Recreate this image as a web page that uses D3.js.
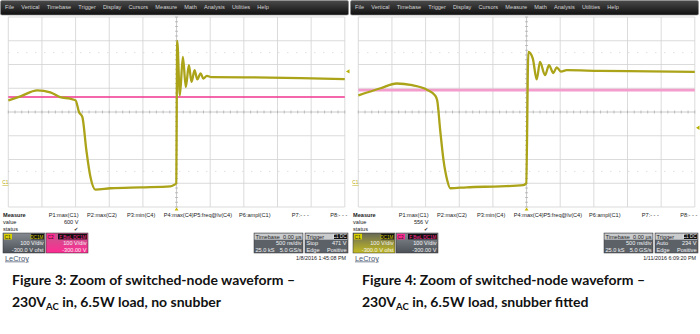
<!DOCTYPE html>
<html>
<head>
<meta charset="utf-8">
<script src="https://cdn.jsdelivr.net/npm/d3@7"></script>
<style>
  body { margin: 0; background: #fff; }
  svg { display: block; }
</style>
</head>
<body>
<svg id="chart" width="700" height="334"></svg>
<script>
// Switch-node traces: time in us (500 ns/div, trigger at 0), volts (100 V/div, -300 V offset)
const fig3Time = [-2.5, -2.32, -2.07, -1.875, -1.73, -1.58, -1.5, -1.45, -1.4, -1.34, -1.28, -1.205, -0.98, -0.54, -0.09, -0.03, -0.005,
  0.01, 0.049, 0.094, 0.138, 0.183, 0.223, 0.268, 0.308, 0.357, 0.397, 0.45, 0.52, 1.1, 1.85, 2.5];
const fig3Volt = [349, 366, 391, 383, 363, 356, 349, 300, 279, 139, 27, -27, -21, -17, -13, -6, 0,
  599, 370, 532, 405, 497, 427, 476, 437, 463, 441, 452, 447, 446, 443, 438];

const fig4Time = [-2.5, -2.17, -1.93, -1.7, -1.48, -1.36, -1.328, -1.283, -1.234, -1.179, -1.135, -0.89, -0.39, -0.05, -0.005,
  0.027, 0.092, 0.151, 0.2, 0.274, 0.334, 0.398, 0.448, 0.51, 0.597, 1.09, 1.83, 2.5];
const fig4Volt = [370, 400, 420, 413, 394, 370, 349, 223, 97, 13, -21, -17, -13, -8, 0,
  553, 526, 437, 511, 455, 497, 464, 488, 470, 476, 473, 471, 469];

const c2Volt = [363, 392];          // C2 sits flat
const triggerLevel = [471, 234];
const triggerMode = ["Stop", "Auto"];
const p1Value = ["600 V", "556 V"];
const dates = ["1/8/2016 1:45:08 PM", "1/11/2016 6:09:20 PM"];
const figNames = ["Figure 3", "Figure 4"];
const figEnds = ["no snubber", "snubber fitted"];

const menuItems = ["File", "Vertical", "Timebase", "Trigger", "Display", "Cursors", "Measure", "Math", "Analysis", "Utilities", "Help"];
const measureLabels = ["P1:max(C1)", "P2:max(C2)", "P3:min(C4)", "P4:max(C4)", "P5:freq@lv(C4)", "P6:ampl(C1)", "P7:- - -", "P8:- - -"];

const svg = d3.select("#chart");
const font = "'Liberation Sans', Arial, sans-serif";

// gradients for the little readout boxes
const defs = svg.append("defs");
function grad(id, top, bottom) {
  const g = defs.append("linearGradient").attr("id", id).attr("x1", 0).attr("x2", 0).attr("y1", 0).attr("y2", 1);
  g.append("stop").attr("offset", "0%").attr("stop-color", top);
  g.append("stop").attr("offset", "100%").attr("stop-color", bottom);
}
grad("menuGrad", "#4a4a4a", "#101010");
grad("grayGrad", "#858a91", "#4c5158");
grad("pinkGrad", "#c25b8d", "#ff2a92");
grad("yellowGrad", "#666858", "#c4bc22");

function drawScope(i) {
  const ox = i * 350;
  const g = svg.append("g");

  // menu bar
  g.append("rect").attr("x", ox + 0.5).attr("y", 0.5).attr("width", 348).attr("height", 14.5)
    .attr("rx", 1.5).attr("fill", "url(#menuGrad)").attr("stroke", "#888").attr("stroke-width", 0.6);
  let mx = ox + 5;
  menuItems.forEach((m) => {
    const t = g.append("text").attr("x", mx).attr("y", 9.3).attr("font-family", font)
      .attr("font-size", 5.6).attr("fill", "#d4d4d4").text(m);
    mx += t.node().getComputedTextLength() + 7.2;
  });

  // scales
  const x = d3.scaleLinear().domain([-2.5, 2.5]).range([ox + 8.3, ox + 344.8]);
  const y = d3.scaleLinear().domain([-100, 700]).range([207, 17]);

  // grid
  const grid = g.append("g").attr("stroke", "#d2d2d2").attr("stroke-width", 0.8);
  d3.range(-2.5, 2.51, 0.5).forEach((t) => {
    grid.append("line").attr("x1", x(t)).attr("x2", x(t)).attr("y1", y(700)).attr("y2", y(-100))
      .attr("stroke", t === 0 ? "#bdbdbd" : "#d2d2d2");
  });
  d3.range(-100, 701, 100).forEach((v) => {
    grid.append("line").attr("x1", x(-2.5)).attr("x2", x(2.5)).attr("y1", y(v)).attr("y2", y(v))
      .attr("stroke", v === 300 ? "#bdbdbd" : "#d2d2d2");
  });
  [550, 50].forEach((v) => {
    grid.append("line").attr("x1", x(-2.5)).attr("x2", x(2.5)).attr("y1", y(v)).attr("y2", y(v))
      .attr("stroke", "#c8c8c8").attr("stroke-dasharray", "1,8");
  });
  // minor ticks on the centre lines
  d3.range(-2.5, 2.51, 0.1).forEach((t) => {
    grid.append("line").attr("x1", x(t)).attr("x2", x(t)).attr("y1", y(300) - 1.5).attr("y2", y(300) + 1.5)
      .attr("stroke", "#b0b0b0");
  });
  d3.range(-100, 701, 20).forEach((v) => {
    grid.append("line").attr("x1", x(0) - 1.5).attr("x2", x(0) + 1.5).attr("y1", y(v)).attr("y2", y(v))
      .attr("stroke", "#b0b0b0");
  });

  // C2 trace
  g.append("line").attr("x1", x(-2.5)).attr("x2", x(2.5)).attr("y1", y(c2Volt[i])).attr("y2", y(c2Volt[i]))
    .attr("stroke", i === 0 ? "#f0358f" : "#f49ccb").attr("stroke-width", i === 0 ? 1.6 : 2.6);

  // C1 trace
  const tt = i === 0 ? fig3Time : fig4Time;
  const vv = i === 0 ? fig3Volt : fig4Volt;
  const pts = tt.map((t, k) => [t, vv[k]]);
  const line = d3.line().x((d) => x(d[0])).y((d) => y(d[1])).curve(d3.curveMonotoneX);
  g.append("path").attr("d", line(pts)).attr("fill", "none")
    .attr("stroke", "#aba318").attr("stroke-width", 2.3).attr("stroke-linejoin", "round");

  // markers: trigger level, trigger position, C1 ground
  const tl = y(triggerLevel[i]);
  g.append("path").attr("d", `M${ox + 346},${tl} l3.5,-2.2 v4.4 z`).attr("fill", "#b8b000");
  g.append("path").attr("d", `M${x(0)},${207.5} l-2,3 h4 z`).attr("fill", "#c8b800");
  g.append("text").attr("x", ox + 2.3).attr("y", y(0) + 1).attr("font-family", font).attr("font-size", 4.8)
    .attr("fill", "#b8a800").attr("text-decoration", "underline").text("C1");

  // measure table
  const tx = (xx, yy, s, opts = {}) => g.append("text").attr("x", xx).attr("y", yy).attr("font-family", font)
    .attr("font-size", opts.size || 5.6).attr("fill", opts.fill || "#222")
    .attr("font-weight", opts.bold ? "bold" : null).attr("text-anchor", opts.anchor || "start").text(s);
  tx(ox + 3, 217, "Measure", { bold: true });
  tx(ox + 3, 224, "value");
  tx(ox + 3, 231, "status");
  measureLabels.forEach((m, k) => tx(ox + 78.5 + k * 38.4, 217, m, { anchor: "end" }));
  tx(ox + 78.5, 224, p1Value[i], { anchor: "end" });
  tx(ox + 77.5, 231, "\u2714", { anchor: "end", size: 5.4 });

  // channel boxes
  const box = (bx, fill, tag, tagFill, label, row1, row2) => {
    g.append("rect").attr("x", bx).attr("y", 233).attr("width", 42).attr("height", 20)
      .attr("fill", fill).attr("stroke", "#333").attr("stroke-width", 0.5);
    g.append("rect").attr("x", bx + 1).attr("y", 233.8).attr("width", 8).attr("height", 5.6).attr("fill", tagFill);
    tx(bx + 1.6, 238.6, tag, { size: 4.8, fill: "#222" });
    const lw = label.length * 2.7 + 2;
    g.append("rect").attr("x", bx + 41 - lw).attr("y", 233.8).attr("width", lw).attr("height", 5.6).attr("fill", "#111");
    tx(bx + 40.3, 238.6, label, { size: 4.6, fill: tagFill, anchor: "end" });
    tx(bx + 40.5, 245.2, row1, { fill: "#f4f4f4", anchor: "end" });
    tx(bx + 40.5, 251.6, row2, { fill: "#f4f4f4", anchor: "end" });
  };
  box(ox + 3, i === 1 ? "url(#yellowGrad)" : "url(#grayGrad)", "C1", "#d8d000", "DC1M", "100 V/div", "-300.0 V ofst");
  box(ox + 46, i === 0 ? "url(#pinkGrad)" : "url(#grayGrad)", "C2", "#ff2a92", "F BwL DC1M", "100 V/div", "-300.00 V");

  // timebase and trigger boxes
  const info = (bx, w, h1, h1r, r2l, r2r, r3l, r3r, tag) => {
    g.append("rect").attr("x", bx).attr("y", 233).attr("width", w).attr("height", 20)
      .attr("fill", "#5c6168").attr("stroke", "#333").attr("stroke-width", 0.5);
    g.append("rect").attr("x", bx + 0.5).attr("y", 233.5).attr("width", w - 1).attr("height", 6.2).attr("fill", "#c9cbcd");
    tx(bx + 1.5, 238.7, h1, { fill: "#222" });
    if (tag) {
      g.append("rect").attr("x", bx + w - 14).attr("y", 234.2).attr("width", 13.2).attr("height", 4.8).attr("fill", "#111");
      tx(bx + w - 1.5, 238.4, h1r, { size: 4.6, fill: "#eee", anchor: "end" });
    } else {
      tx(bx + w - 1.5, 238.7, h1r, { fill: "#222", anchor: "end" });
    }
    tx(bx + 1.5, 245.2, r2l, { fill: "#f2f2f2" });
    tx(bx + w - 1.5, 245.2, r2r, { fill: "#f2f2f2", anchor: "end" });
    tx(bx + 1.5, 251.6, r3l, { fill: "#f2f2f2" });
    tx(bx + w - 1.5, 251.6, r3r, { fill: "#f2f2f2", anchor: "end" });
  };
  info(ox + 254, 49, "Timebase", "0.00 \u00b5s", "", "500 ns/div", "25.0 kS", "5.0 GS/s", false);
  info(ox + 305, 43, "Trigger", "C1 DC", triggerMode[i], triggerLevel[i] + " V", "Edge", "Positive", true);

  tx(ox + 5, 260.5, "LeCroy", { size: 7.4, fill: "#4b5a72" }).attr("text-decoration", "underline");
  tx(ox + 346, 260, dates[i], { size: 5.4, anchor: "end" });

  // caption
  const cap = (yy) => g.append("text").attr("x", ox + 12).attr("y", yy)
    .attr("font-family", "Lato, 'Open Sans', sans-serif").attr("font-weight", "bold")
    .attr("font-size", 14).attr("fill", "#111");
  cap(284.5).text(`${figNames[i]}: Zoom of switched-node waveform \u2013`);
  const c2 = cap(306.5);
  c2.append("tspan").text("230V");
  c2.append("tspan").attr("font-size", 9.5).attr("dy", 3).text("AC");
  c2.append("tspan").attr("dy", -3).text(` in, 6.5W load, ${figEnds[i]}`);
}

drawScope(0);
drawScope(1);
</script>
</body>
</html>
